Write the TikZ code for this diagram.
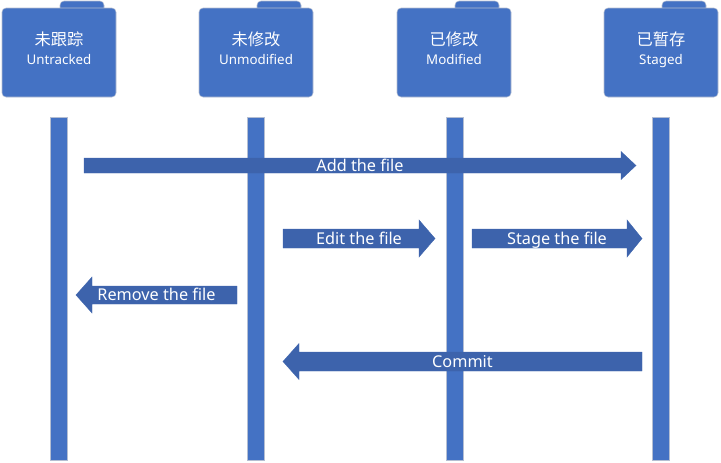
\documentclass[tikz,border=0pt]{standalone}
\usepackage{fontspec}
\setmainfont{Noto Sans}
\newfontfamily\cjk{Noto Sans CJK SC}
\usepackage{tikz}
\tikzstyle{board} = [x = 0.75pt, y = -0.75pt]
\definecolor{stateBlue}{HTML}{4472C4}
\definecolor{arrowBlue}{RGB}{61,99,172}
\definecolor{edgeGray}{RGB}{180,190,210}
\tikzstyle{folderStyle} = [fill=stateBlue, draw=edgeGray, line width=.4pt, rounded corners = 3]
\tikzstyle{lifeLineStyle} = [fill=stateBlue, draw=edgeGray, line width=.4pt]
\tikzstyle{arrowStyle} = [fill=arrowBlue, draw=arrowBlue, line width=.3pt]
\tikzstyle{stateText} = [text=white, inner sep=0, anchor=base, font=\cjk\fontsize{12.2}{14}\selectfont]
\tikzstyle{stateSubText} = [text=white, inner sep=0, anchor=base, font=\fontsize{10}{12}\selectfont]
\tikzstyle{arrowText} = [text=white, inner sep=0, anchor=base, font=\fontsize{12.2}{14}\selectfont]
\newcommand{\bodyTop}{8}
\newcommand{\bodyBottom}{97}
% folder for one state: name, center x, chinese, english
\newcommand{\stateFolder}[4]{
  \filldraw [folderStyle] (#2 + 1, 1) rectangle (#2 + 45, \bodyTop + 6);
  \filldraw [folderStyle] (#2 - 57, \bodyTop) rectangle (#2 + 57, \bodyBottom);
  \node [stateText] (#1) at (#2, 45) {#3};
  \node [stateSubText] (#1Sub) at (#2, 64) {#4};
}
% block arrow: name, tail x, head base x, tip x, center y, body half, head half, text
\newcommand{\blockArrow}[8]{
  \filldraw [arrowStyle] (#2, #5 - #6) -- (#3, #5 - #6) -- (#3, #5 - #7) -- (#4, #5)
    -- (#3, #5 + #7) -- (#3, #5 + #6) -- (#2, #5 + #6) -- cycle;
  \node [arrowText] (#1) at ({(#2 + #4) / 2}, #5 + 5.5) {#8};
}
\begin{document}
\begin{tikzpicture}[board]
  \useasboundingbox (0, 0) rectangle (721, 462);
  \stateFolder{untracked}{59}{未跟踪}{Untracked}
  \stateFolder{unmodified}{256}{未修改}{Unmodified}
  \stateFolder{modified}{454}{已修改}{Modified}
  \stateFolder{staged}{661}{已暂存}{Staged}
  \foreach \x in {58.5, 256, 454.5, 661} {
    \filldraw [lifeLineStyle] (\x - 8.5, 117) rectangle + (17, 343);
  }
  \blockArrow{addFile}{84}{621}{636}{165.5}{7.5}{14}{Add the file}
  \blockArrow{editFile}{283}{419}{435}{238.5}{9.5}{18.5}{Edit the file}
  \blockArrow{stageFile}{472}{627}{642}{238.5}{9.5}{18.5}{Stage the file}
  \blockArrow{removeFile}{237}{92}{76}{295}{9}{18}{Remove the file}
  \blockArrow{commitFile}{642}{299}{283}{361.5}{9.5}{18}{Commit}
\end{tikzpicture}
\end{document}
